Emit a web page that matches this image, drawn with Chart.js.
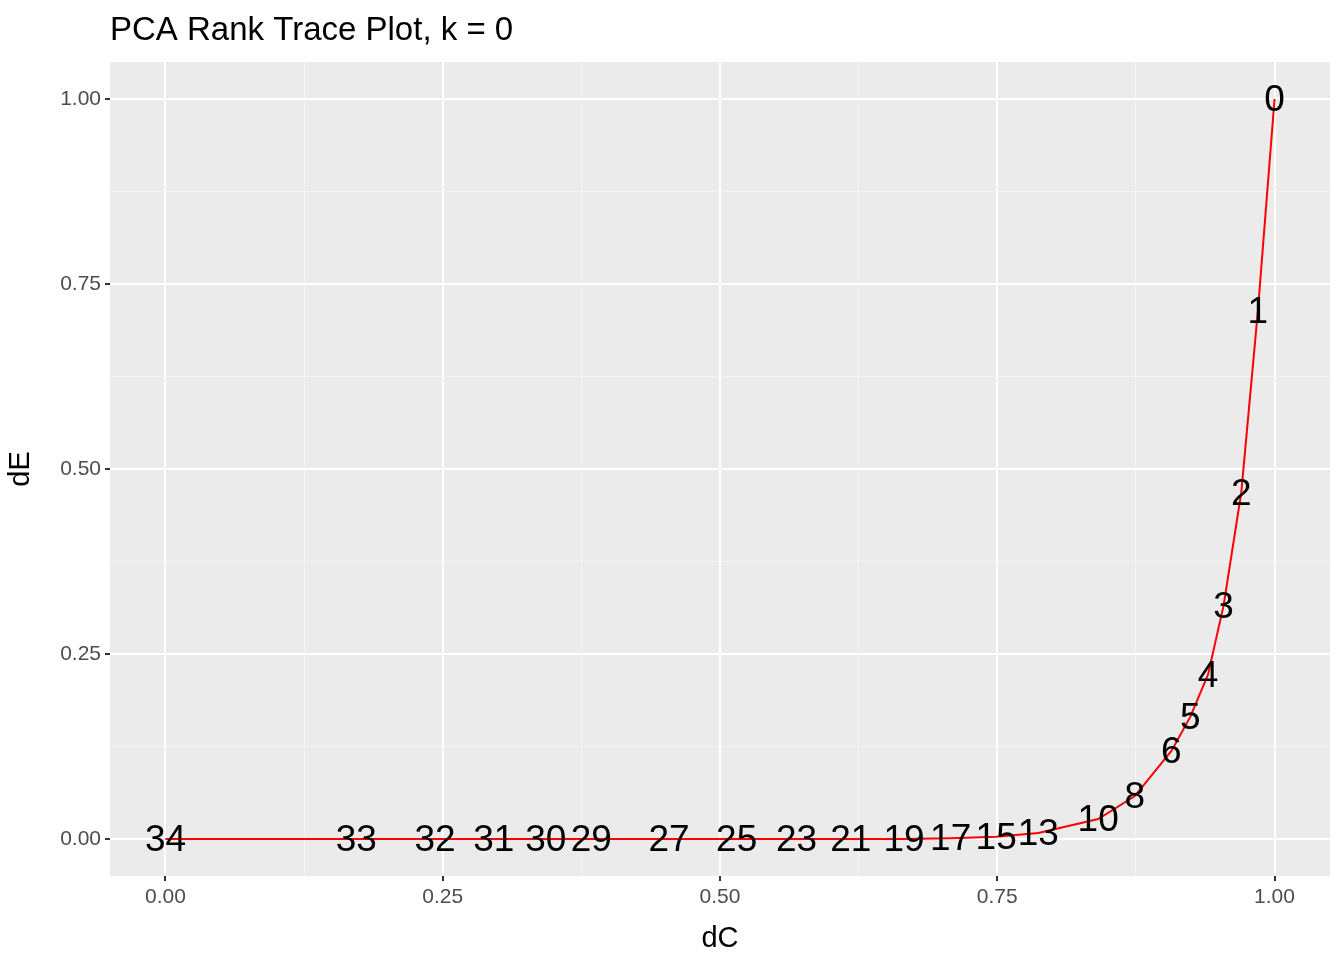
<!DOCTYPE html>
<html>
<head>
<meta charset="utf-8">
<script src="https://cdn.jsdelivr.net/npm/chart.js@4"></script>
<style>
  html, body { margin: 0; padding: 0; background: #fff; }
  #wrap { width: 1344px; height: 960px; }
</style>
</head>
<body>
<div id="wrap"><canvas id="c" width="1344" height="960"></canvas></div>
<script>
// ranks with labels
const ranks = ['0','1','2','3','4','5','6','8','10','13','15','17','19','21','23','25','27','29','30','31','32','33','34'];
const dC = [1.0, 0.985, 0.970, 0.954, 0.940, 0.924, 0.907, 0.874, 0.841, 0.787, 0.749, 0.708, 0.666, 0.618, 0.569, 0.515, 0.454, 0.384, 0.343, 0.296, 0.243, 0.172, 0.0];
const dE = [1.0, 0.714, 0.468, 0.315, 0.222, 0.165, 0.119, 0.058, 0.027, 0.008, 0.003, 0.001, 0, 0, 0, 0, 0, 0, 0, 0, 0, 0, 0];
const tickVals = [0, 0.125, 0.25, 0.375, 0.5, 0.625, 0.75, 0.875, 1];
const FONT = '"Liberation Sans", Arial, sans-serif';

const isMajor = v => Math.abs(v * 4 - Math.round(v * 4)) < 1e-6;

const bgPlugin = {
    id: 'panelBg',
    beforeDraw(chart) {
        const { ctx, chartArea: a } = chart;
        ctx.save();
        ctx.fillStyle = '#ebebeb';
        ctx.fillRect(a.left, a.top, a.right - a.left, a.bottom - a.top);
        ctx.restore();
    }
};

const labelPlugin = {
    id: 'rankLabels',
    afterDatasetsDraw(chart) {
        const { ctx, scales } = chart;
        ctx.save();
        ctx.font = '37px ' + FONT;
        ctx.fillStyle = '#000';
        ctx.textAlign = 'center';
        ctx.textBaseline = 'middle';
        ranks.forEach((r, i) => {
            ctx.fillText(r, scales.x.getPixelForValue(dC[i]), scales.y.getPixelForValue(dE[i]) + 2);
        });
        // title
        ctx.font = '33px ' + FONT;
        ctx.textAlign = 'left';
        ctx.fillText('PCA Rank Trace Plot, k = 0', 110, 31);
        ctx.restore();
    }
};

function gridOpts() {
    return {
        color: c => isMajor(c.tick.value) ? '#ffffff' : '#f5f5f5',
        lineWidth: c => isMajor(c.tick.value) ? 2 : 1,
        tickColor: c => isMajor(c.tick.value) ? '#333333' : 'rgba(0,0,0,0)',
        tickLength: 5,
        drawTicks: true
    };
}

function tickOpts() {
    return {
        color: '#4d4d4d',
        font: { size: 21, family: FONT },
        autoSkip: false,
        maxRotation: 0,
        padding: 4,
        callback: v => isMajor(v) ? v.toFixed(2) : ''
    };
}

new Chart(document.getElementById('c'), {
    type: 'scatter',
    data: {
        datasets: [{
            data: dC.map((x, i) => ({ x: x, y: dE[i] })),
            showLine: true,
            borderColor: '#ff0000',
            borderWidth: 2,
            pointRadius: 0,
            tension: 0
        }]
    },
    options: {
        responsive: false,
        animation: false,
        layout: { padding: { top: 62, right: 14, left: 0, bottom: 0 } },
        plugins: { legend: { display: false }, tooltip: { enabled: false } },
        scales: {
            x: {
                type: 'linear', min: -0.05, max: 1.05,
                afterBuildTicks: a => { a.ticks = tickVals.map(v => ({ value: v })); },
                afterFit: a => { a.height = 84; },
                grid: gridOpts(), border: { display: false },
                ticks: tickOpts(),
                title: { display: true, text: 'dC', color: '#000', font: { size: 29, family: FONT }, padding: { top: 0 } }
            },
            y: {
                type: 'linear', min: -0.05, max: 1.05,
                afterBuildTicks: a => { a.ticks = tickVals.map(v => ({ value: v })); },
                afterFit: a => { a.width = 110; },
                grid: gridOpts(), border: { display: false },
                ticks: tickOpts(),
                title: { display: true, text: 'dE', color: '#000', font: { size: 29, family: FONT }, padding: { bottom: 2 } }
            }
        }
    },
    plugins: [bgPlugin, labelPlugin]
});
</script>
</body>
</html>
